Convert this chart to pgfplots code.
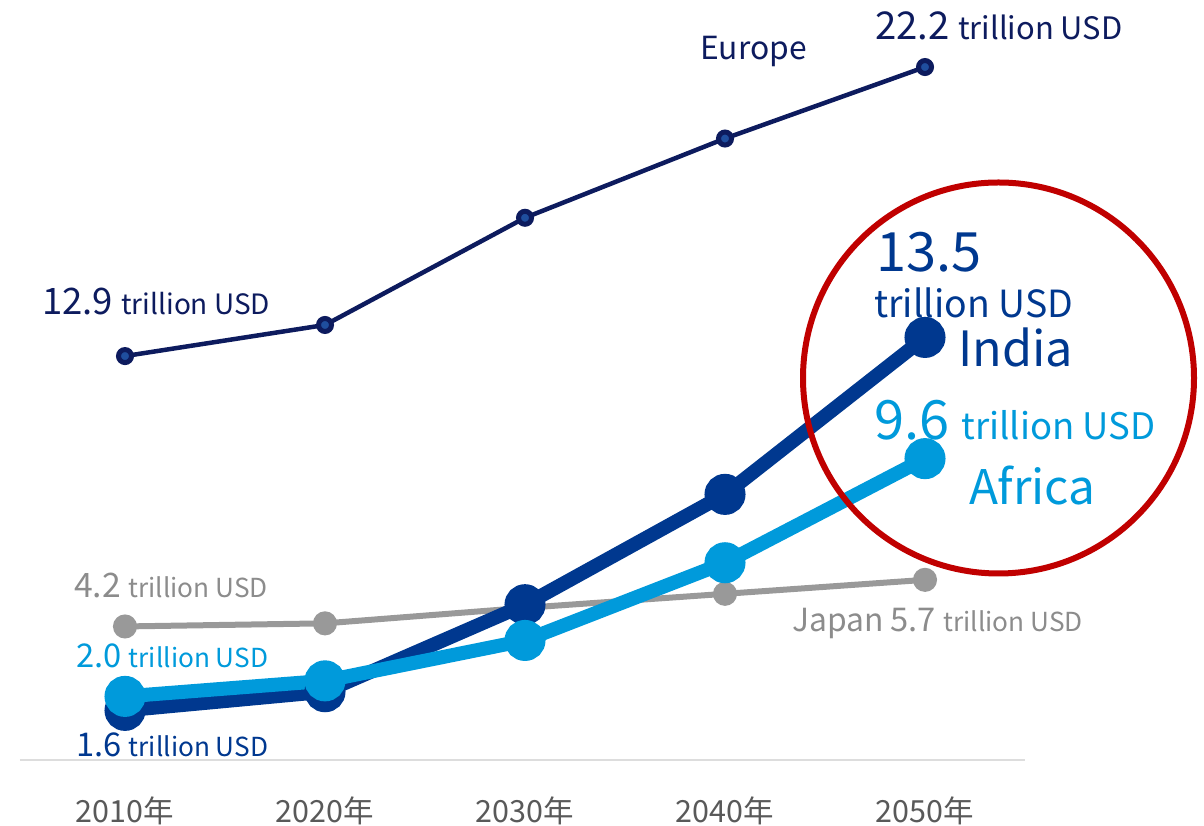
\documentclass[border=0pt]{standalone}
\usepackage{pgfplots}
\pgfplotsset{compat=1.18}
\usepackage{fontspec}
\setmainfont{Noto Sans CJK JP}
\newcommand{\fs}[1]{\fontsize{#1pt}{#1pt}\selectfont}
\definecolor{eunavy}{HTML}{0D1B5E}
\definecolor{euinner}{HTML}{1F4E9E}
\definecolor{india}{HTML}{00388F}
\definecolor{africa}{HTML}{009ADB}
\definecolor{japan}{HTML}{999999}
\definecolor{japantext}{HTML}{8C8C8C}
\definecolor{tickgray}{HTML}{595959}
\definecolor{basegray}{HTML}{DDDDDD}
\definecolor{circred}{HTML}{C00000}
\begin{document}
\begin{tikzpicture}
\useasboundingbox (0,0) rectangle (1204pt,826pt);
\begin{axis}[
  scale only axis, width=1005pt, height=760pt,
  at={(20pt,66pt)}, anchor=south west,
  xmin=2004.75, xmax=2055, ymin=-0.0965, ymax=24.357,
  axis x line*=bottom, axis y line=none,
  x axis line style={draw=basegray, line width=2pt},
  xtick={2010,2020,2030,2040,2050},
  xticklabels={2010年,2020年,2030年,2040年,2050年},
  major tick length=0pt,
  xticklabel style={anchor=base, yshift=-63pt, font=\fs{30.5}, text=tickgray, inner sep=0pt},
  clip=false,
]
\addplot[color=japan, line width=6pt, mark=*, mark size=9pt, mark options={fill=japan, draw=none}]
  coordinates {(2010,4.2)(2020,4.3)(2030,4.8)(2040,5.25)(2050,5.7)};
\addplot[color=eunavy, line width=4.5pt, mark=*, mark size=6.5pt, mark options={fill=euinner, draw=eunavy, line width=5pt}]
  coordinates {(2010,12.9)(2020,13.9)(2030,17.35)(2040,19.9)(2050,22.2)};
\addplot[color=india, line width=14pt, mark=*, mark size=13.5pt, mark options={fill=india, draw=none}]
  coordinates {(2010,1.5)(2020,2.1)(2030,4.9)(2040,8.45)(2050,13.5)};
\addplot[color=africa, line width=14pt, mark=*, mark size=13.5pt, mark options={fill=africa, draw=none}]
  coordinates {(2010,1.95)(2020,2.45)(2030,3.75)(2040,6.25)(2050,9.6)};
\end{axis}
\draw[circred, line width=6pt] (998.5pt,448pt) circle (195.5pt);
\begin{scope}[every node/.style={inner sep=0pt, anchor=base west}]
\node[text=eunavy] at (700pt,766pt) {\fs{31.8}Europe};
\node[text=eunavy] at (875pt,786pt) {\fs{38.3}22.2 \fs{30.9}trillion USD};
\node[text=eunavy] at (42pt,511pt) {\fs{36.5}12.9 \fs{28}trillion USD};
\node[text=india] at (876pt,554pt) {\fs{54.2}13.5};
\node[text=india] at (874pt,508pt) {\fs{37.4}trillion USD};
\node[text=india] at (958pt,459pt) {\fs{48.6}India};
\node[text=africa] at (874pt,386pt) {\fs{54.2}9.6 \fs{36.5}trillion USD};
\node[text=africa] at (969pt,321pt) {\fs{47.7}Africa};
\node[text=japantext] at (792pt,194pt) {\fs{31.8}Japan \fs{32.7}5.7 \fs{26.2}trillion USD};
\node[text=japantext] at (74pt,228pt) {\fs{33.7}4.2 \fs{26.2}trillion USD};
\node[text=africa] at (76pt,158pt) {\fs{32.7}2.0 \fs{26.2}trillion USD};
\node[text=india] at (76pt,69pt) {\fs{32.7}1.6 \fs{26.2}trillion USD};
\end{scope}
\end{tikzpicture}
\end{document}
